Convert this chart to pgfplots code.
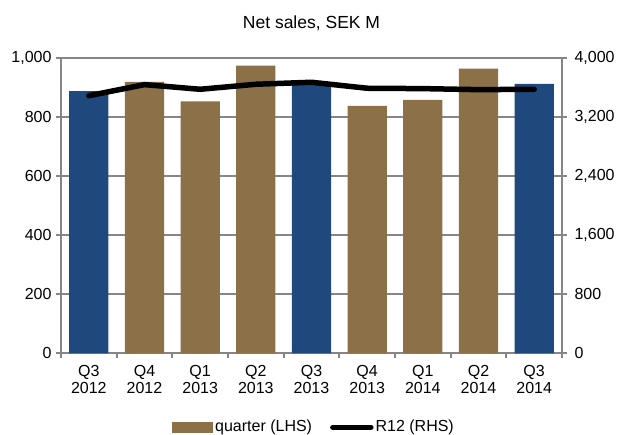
\documentclass[border=0pt]{standalone}
\usepackage{pgfplots}
\pgfplotsset{compat=1.18}
\usepackage{fontspec}
\setmainfont{Liberation Sans}
\definecolor{barblue}{RGB}{31,73,125}
\definecolor{barbrown}{RGB}{139,112,72}
\definecolor{axgray}{RGB}{134,134,134}
\pgfplotsset{
  r12 legend/.style={legend image code/.code={\draw[black, line width=5.5pt, line cap=round] (2pt,0pt) -- (40pt,0pt);}},
  bar legend/.style={legend image code/.code={\fill[barbrown] (0pt,-5.3pt) rectangle (41pt,5.3pt);}},
}
\begin{document}
\fontsize{16}{17}\selectfont
\begin{tikzpicture}
\path[use as bounding box] (0,0) rectangle (617pt,434pt);
\begin{axis}[
  at={(61pt,80.7pt)}, anchor=south west,
  scale only axis, width=501pt, height=295pt,
  xmin=-0.5, xmax=8.5, ymin=0, ymax=1000,
  /pgf/number format/assume math mode=true,
  /pgf/number format/1000 sep={,},
  scaled y ticks=false,
  font=\fontsize{16}{17.5}\selectfont,
  ytick={0,200,...,1000},
  xtick={0,...,8},
  xticklabels={{Q3\\2012},{Q4\\2012},{Q1\\2013},{Q2\\2013},{Q3\\2013},{Q4\\2013},{Q1\\2014},{Q2\\2014},{Q3\\2014}},
  xticklabel style={align=center, yshift=-1pt},
  yticklabel style={xshift=1pt},
  major x tick style={draw=none},
  minor xtick={-0.5,0.5,...,8.5},
  minor x tick style={axgray, line width=2.2pt},
  minor tick length=5pt,
  major tick length=5pt,
  tick align=outside,
  xtick pos=bottom, ytick pos=left,
  y tick style={axgray, line width=2.2pt},
  axis line style={axgray, line width=2.2pt},
  ymajorgrids, grid style={axgray, line width=2.2pt},
  title={Net sales, SEK M},
  title style={at={(0.5,1)}, anchor=center, yshift=29pt, font=\fontsize{17.5}{19}\selectfont},
  legend style={at={(0.505,-0.251)}, anchor=center, draw=none, fill=none,
    legend columns=2, font=\fontsize{16}{17}\selectfont, inner sep=0pt,
    /tikz/every even column/.append style={column sep=16pt},
    /tikz/every odd column/.append style={column sep=0pt}},
  legend cell align=left,
]
\addplot[ybar, fill=barbrown, draw=none, bar width=0.705, bar shift=0pt, bar legend]
  coordinates {(1,920) (2,854) (3,975) (5,839) (6,859) (7,965)};
\addlegendentry{quarter (LHS)}
\addplot[ybar, fill=barblue, draw=none, bar width=0.705, bar shift=0pt, forget plot]
  coordinates {(0,889) (4,913) (8,913)};
\addlegendimage{r12 legend}
\addlegendentry{R12 (RHS)}
\end{axis}
\begin{axis}[
  at={(61pt,80.7pt)}, anchor=south west,
  scale only axis, width=501pt, height=295pt,
  xmin=-0.5, xmax=8.5, ymin=0, ymax=4000,
  /pgf/number format/assume math mode=true,
  /pgf/number format/1000 sep={,},
  scaled y ticks=false,
  font=\fontsize{16}{17}\selectfont,
  axis x line=none,
  axis y line*=right,
  ytick={0,800,...,4000},
  yticklabel style={xshift=2pt},
  tick align=outside,
  major tick length=5pt,
  y tick style={axgray, line width=2.2pt},
  axis line style={axgray, line width=2.2pt, -},
]
\addplot[black, line width=5.5pt, line join=round, line cap=round]
  coordinates {(0,3493) (1,3643) (2,3580) (3,3648) (4,3675) (5,3594) (6,3589) (7,3575) (8,3580)};
\end{axis}
\end{tikzpicture}
\end{document}
